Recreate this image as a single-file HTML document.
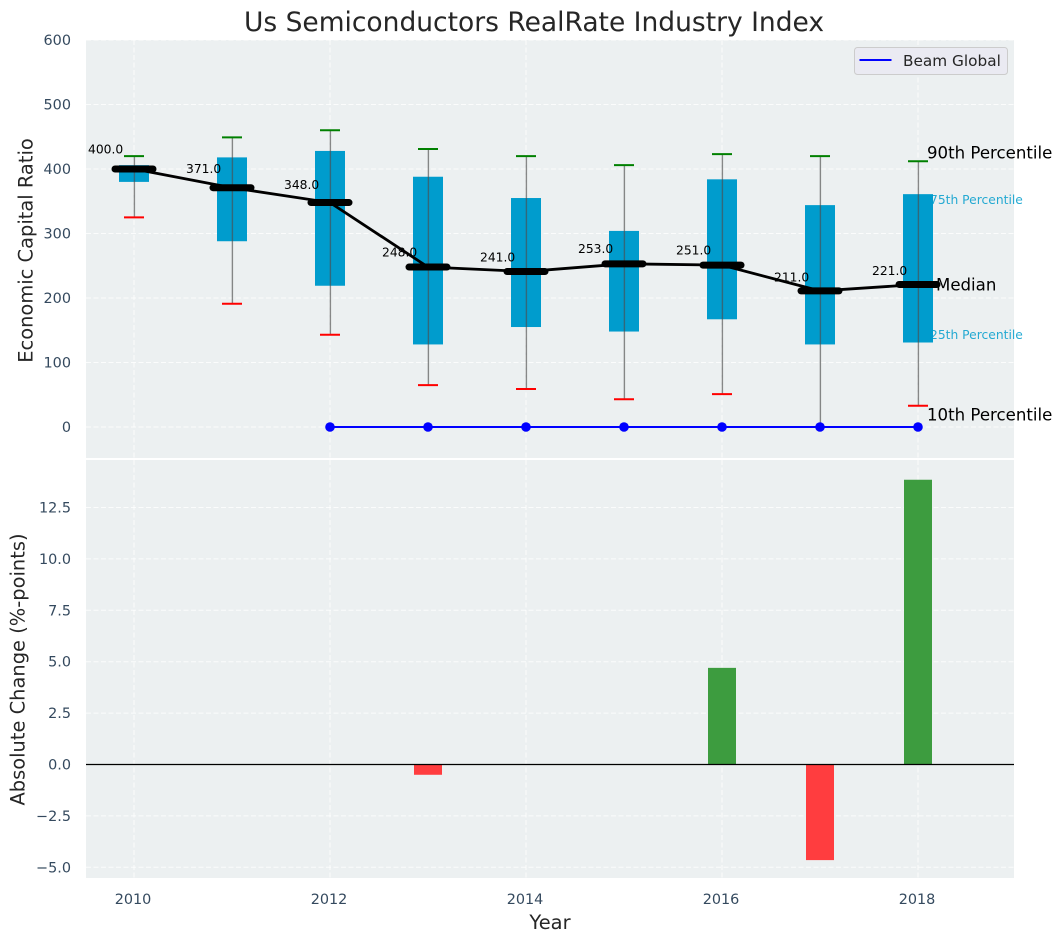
<!DOCTYPE html>
<html>
<head>
<meta charset="utf-8">
<title>Us Semiconductors RealRate Industry Index</title>
<style>
html,body{margin:0;padding:0;background:#fff;}
svg{display:block;font-family:"DejaVu Sans","Liberation Sans",sans-serif;}
</style>
</head>
<body>
<svg id="chart" xmlns="http://www.w3.org/2000/svg" width="1062" height="942" viewBox="0 0 1062 942">
  <text x="534" y="31" text-anchor="middle" font-size="26.5" fill="#262626">Us Semiconductors RealRate Industry Index</text>
  <rect x="86" y="40" width="928" height="418" fill="#ecf0f1"/>
  <rect x="86" y="460" width="928" height="418" fill="#ecf0f1"/>
  <text transform="translate(32.5,250.5) rotate(-90)" text-anchor="middle" font-size="19.45" fill="#262626">Economic Capital Ratio</text>
  <text transform="translate(24.5,669.5) rotate(-90)" text-anchor="middle" font-size="19.45" fill="#262626">Absolute Change (%-points)</text>
  <text x="550" y="929" text-anchor="middle" font-size="19.45" fill="#262626">Year</text>
  <g id="grid"></g>
  <g id="ticks"></g>
  <g id="marks"></g>
  <g>
    <rect x="854.5" y="47.5" width="153" height="27" rx="3" fill="#eaeaf2" stroke="#cccccc" stroke-width="1"/>
    <line x1="859.5" x2="891.5" y1="60" y2="60" stroke="#0000ff" stroke-width="2"/>
    <text x="903" y="66" font-size="15.3" fill="#262626">Beam Global</text>
  </g>
</svg>
<script>
const years = [2010, 2011, 2012, 2013, 2014, 2015, 2016, 2017, 2018];
const p90 = [420, 449, 460, 431, 420, 406, 423, 420, 412];
const p75 = [406, 418, 428, 388, 355, 304, 384, 344, 361];
const medians = [400, 371, 348, 248, 241, 253, 251, 211, 221];
const p25 = [380, 288, 219, 128, 155, 148, 167, 128, 131];
const p10 = [325, 191, 143, 65, 59, 43, 51, 0, 33];
const beamYears = [2012, 2013, 2014, 2015, 2016, 2017, 2018];
const beamValues = [0, 0, 0, 0, 0, 0, 0];
const changeYears = [2013, 2016, 2017, 2018];
const changeValues = [-0.5, 4.7, -4.65, 13.85];
const xTicks = [2010, 2012, 2014, 2016, 2018];
const topTicks = [0, 100, 200, 300, 400, 500, 600];
const bottomTicks = [-5, -2.5, 0, 2.5, 5, 7.5, 10, 12.5];

const NS = 'http://www.w3.org/2000/svg';
const gridG = document.getElementById('grid');
const ticksG = document.getElementById('ticks');
const marksG = document.getElementById('marks');

function xScale(v) { return 134 + (v - 2010) * 98; }
function yTop(v) { return 427 - v * 0.645; }
function yBottom(v) { return 764.5 - v * 20.56; }

function make(parent, tag, props, content) {
  const el = document.createElementNS(NS, tag);
  for (const k in props) el.setAttribute(k, props[k]);
  if (content !== undefined) el.textContent = content;
  parent.appendChild(el);
  return el;
}
function tickText(v) {
  const s = Number.isInteger(v) && Math.abs(v) >= 100 ? String(v) : v.toFixed(1);
  return s.replace('-', '\u2212');
}
const gridStyle = { stroke: '#ffffff', 'stroke-width': 1, 'stroke-dasharray': '5 2.5', 'stroke-opacity': 0.8 };
const tickFill = '#34495e';
const tickSize = 14.4;

topTicks.forEach(function (v) {
  const line = make(gridG, 'line', Object.assign({ x1: 86, x2: 1014, y1: yTop(v), y2: yTop(v) }, gridStyle));
  
  
  const label = make(ticksG, 'text', { x: 71, y: yTop(v) + 5, 'text-anchor': 'end', 'font-size': tickSize, fill: tickFill }, String(v));
  
  
});
bottomTicks.forEach(function (v) {
  const line = make(gridG, 'line', Object.assign({ x1: 86, x2: 1014, y1: yBottom(v), y2: yBottom(v) }, gridStyle));
  
  
  const label = make(ticksG, 'text', { x: 71, y: yBottom(v) + 5, 'text-anchor': 'end', 'font-size': tickSize, fill: tickFill }, tickText(v));
  
  
});
xTicks.forEach(function (v) {
  const topLine = make(gridG, 'line', Object.assign({ x1: xScale(v), x2: xScale(v), y1: 40, y2: 458 }, gridStyle));
  
  
  const bottomLine = make(gridG, 'line', Object.assign({ x1: xScale(v), x2: xScale(v), y1: 460, y2: 878 }, gridStyle));
  
  
  const label = make(ticksG, 'text', { x: xScale(v) - 1, y: 904, 'text-anchor': 'middle', 'font-size': tickSize, fill: tickFill }, String(v));
  
  
});

const last = years.length - 1;
const p75Label = make(marksG, 'text', { x: 930, y: yTop(p75[last]) + 10, 'font-size': 12.3, fill: '#009ccd', 'fill-opacity': 0.85 }, '75th Percentile');


const p25Label = make(marksG, 'text', { x: 930, y: yTop(p25[last]) - 3.5, 'font-size': 12.3, fill: '#009ccd', 'fill-opacity': 0.85 }, '25th Percentile');



const capHalf = 10;
years.forEach(function (yr, i) {
  const x = xScale(yr);
  const box = make(marksG, 'rect', { x: x - 15, y: yTop(p75[i]), width: 30, height: yTop(p25[i]) - yTop(p75[i]), fill: '#009ccd' });
  
  
  const whisker = make(marksG, 'line', { x1: x + 0.4, x2: x + 0.4, y1: yTop(p90[i]), y2: yTop(p10[i]), stroke: '#4d4d4d', 'stroke-opacity': 0.65, 'stroke-width': 1.4 });
  
  
  const capHigh = make(marksG, 'line', { x1: x - capHalf, x2: x + capHalf, y1: yTop(p90[i]), y2: yTop(p90[i]), stroke: '#008000', 'stroke-width': 2 });
  
  
  const capLow = make(marksG, 'line', { x1: x - capHalf, x2: x + capHalf, y1: yTop(p10[i]), y2: yTop(p10[i]), stroke: '#ff0000', 'stroke-width': 2 });
  
  
});

const medianLine = make(marksG, 'polyline', {
  points: years.map(function (yr, i) { return xScale(yr) + ',' + yTop(medians[i]); }).join(' '),
  fill: 'none', stroke: '#000000', 'stroke-width': 2.8
});



const beamLine = make(marksG, 'polyline', {
  points: beamYears.map(function (yr, i) { return xScale(yr) + ',' + yTop(beamValues[i]); }).join(' '),
  fill: 'none', stroke: '#0000ff', 'stroke-width': 2
});


beamYears.forEach(function (yr, i) {
  const dot = make(marksG, 'circle', { cx: xScale(yr), cy: yTop(beamValues[i]), r: 4.8, fill: '#0000ff' });
  
  
});

years.forEach(function (yr, i) {
  const x = xScale(yr);
  const bar = make(marksG, 'line', { x1: x - 19, x2: x + 19, y1: yTop(medians[i]), y2: yTop(medians[i]), stroke: '#000000', 'stroke-width': 7, 'stroke-linecap': 'round' });
  
  
  const label = make(marksG, 'text', { x: x - 46, y: yTop(medians[i] * 1.05) - 2.5, 'font-size': 12.3, fill: '#000000' }, medians[i].toFixed(1));
  
  
});

const p90Label = make(marksG, 'text', { x: 927, y: yTop(p90[last]) - 3, 'font-size': 16.6, fill: '#000000' }, '90th Percentile');


const medianLabel = make(marksG, 'text', { x: 936, y: yTop(medians[last]) + 6, 'font-size': 16.6, fill: '#000000' }, 'Median');


const p10Label = make(marksG, 'text', { x: 927, y: yTop(p10[last]) + 15, 'font-size': 16.6, fill: '#000000' }, '10th Percentile');



changeYears.forEach(function (yr, i) {
  const v = changeValues[i];
  const y0 = yBottom(0);
  const y1 = yBottom(v);
  const bar = make(marksG, 'rect', { x: xScale(yr) - 14, y: Math.min(y0, y1), width: 28, height: Math.abs(y1 - y0), fill: v >= 0 ? '#3d9c3f' : '#ff3d3f' });
  
  
});
const zeroLine = make(marksG, 'line', { x1: 86, x2: 1014, y1: yBottom(0), y2: yBottom(0), stroke: '#000000', 'stroke-width': 1.3 });


</script>
</body>
</html>
